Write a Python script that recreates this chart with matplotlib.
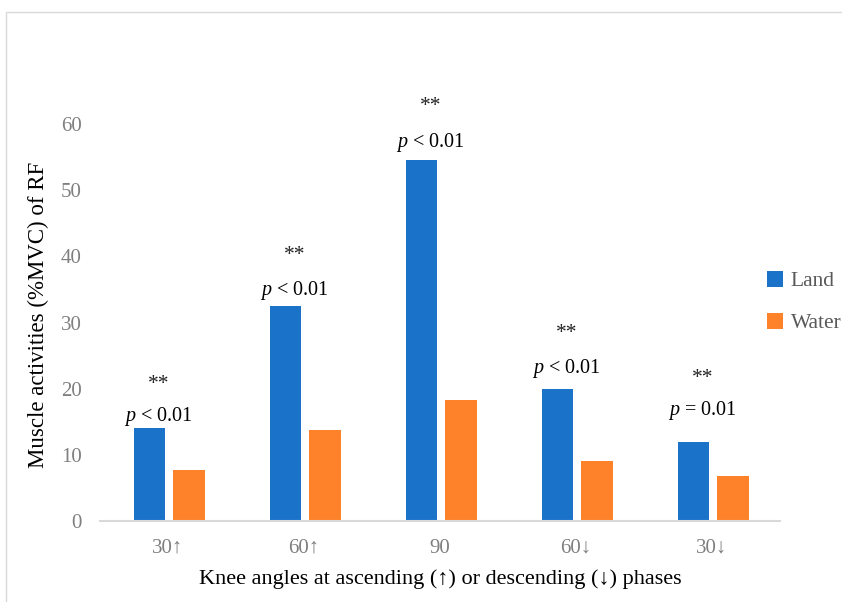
import matplotlib
matplotlib.use("Agg")
import matplotlib.pyplot as plt
import numpy as np
from matplotlib.patches import Rectangle

plt.rcParams['font.family'] = ['Liberation Serif', 'DejaVu Serif']
plt.rcParams['mathtext.fontset'] = 'custom'
plt.rcParams['mathtext.rm'] = 'Liberation Serif'
plt.rcParams['mathtext.it'] = 'Liberation Serif:italic'

categories = ["30↑", "60↑", "90", "60↓", "30↓"]
land = [14.0, 32.5, 54.5, 19.9, 11.9]
water = [7.7, 13.8, 18.3, 9.1, 6.8]
p_labels = [r"$\it{p}$ < 0.01", r"$\it{p}$ < 0.01", r"$\it{p}$ < 0.01",
            r"$\it{p}$ < 0.01", r"$\it{p}$ = 0.01"]
p_y = [15.8, 34.8, 57.2, 23.1, 16.7]
star_y = [20.6, 40.2, 62.6, 28.3, 21.5]

blue = "#1B72C9"
orange = "#FD822A"

fig = plt.figure(figsize=(8.42, 6.02), dpi=100)
fig.patches.append(Rectangle((6/842, -0.1), 1.2, 1 - 12/602 + 0.1,
                             transform=fig.transFigure, fill=False,
                             edgecolor="#d9d9d9", linewidth=1.0))

ax = fig.add_axes([100/842, 1 - 521/602, 680/842, (521 - 124)/602])
x = np.arange(len(categories))
w = 0.23
off = 0.145
ax.bar(x - off + 0.01, land, w, color=blue, label="Land")
ax.bar(x + off + 0.01, water, w, color=orange, label="Water")

for i in range(len(categories)):
    ax.text(x[i] - 0.07, p_y[i], p_labels[i], ha="center", va="center",
            fontsize=14.5, color="black", clip_on=False)
    ax.text(x[i] - 0.07, star_y[i], "**", ha="center", va="center",
            fontsize=15.5, color="#222222", clip_on=False)

ax.set_xlim(-0.5, 4.5)
ax.set_ylim(0, 60)
ax.set_yticks(range(0, 61, 10))
ax.set_xticks(x)
ax.set_xticklabels(categories)
for s in ["top", "right", "left"]:
    ax.spines[s].set_visible(False)
ax.spines["bottom"].set_color("#d9d9d9")
ax.spines["bottom"].set_linewidth(1.5)
ax.tick_params(axis="both", length=0, labelsize=15, labelcolor="#7f7f7f")
ax.tick_params(axis="y", pad=13)
ax.tick_params(axis="x", pad=13)

ax.set_xlabel("Knee angles at ascending (↑) or descending (↓) phases",
              fontsize=16, color="black", labelpad=8)
fig.text(38/842, 1 - 315/602, "Muscle activities (%MVC) of RF", rotation=90,
         ha="center", va="center", fontsize=16.5, color="black")

leg = fig.legend(loc="center left", bbox_to_anchor=(767/842, 1 - 302/602),
                 bbox_transform=fig.transFigure, frameon=False,
                 fontsize=15.5, handlelength=0.75, handleheight=0.75,
                 labelspacing=1.0, handletextpad=0.35, borderpad=0,
                 borderaxespad=0)
for t in leg.get_texts():
    t.set_color("#595959")

fig.savefig("out.png", dpi=100)
